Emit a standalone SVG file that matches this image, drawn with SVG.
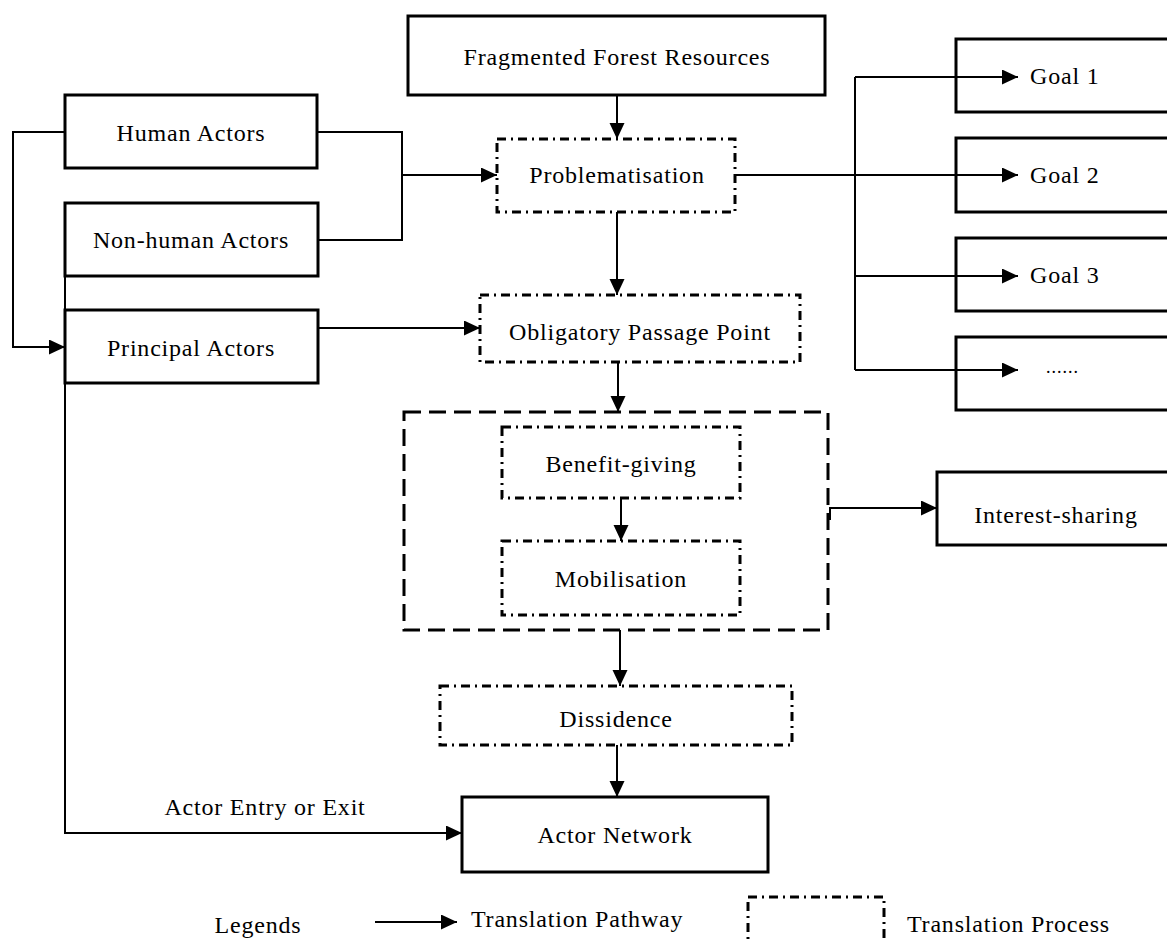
<svg xmlns="http://www.w3.org/2000/svg" width="1167" height="940" viewBox="0 0 1167 940">
<style>
text{font-family:"Liberation Serif","Times New Roman",serif;font-size:24px;fill:#000;letter-spacing:0.8px}
.m{text-anchor:middle}
.box{fill:#fff;stroke:#000;stroke-width:3}
.goal{fill:none;stroke:#000;stroke-width:3}
.proc{fill:#fff;stroke:#000;stroke-width:3;stroke-dasharray:9 5 2 5}
.big{fill:none;stroke:#000;stroke-width:3;stroke-dasharray:17 8}
.c{fill:none;stroke:#000;stroke-width:2}
.a{marker-end:url(#ah)}
</style>
<defs>
<marker id="ah" markerUnits="userSpaceOnUse" markerWidth="16" markerHeight="16" refX="16" refY="7.5" orient="auto">
<path d="M0,0 L16,7.5 L0,15 z" fill="#000"/>
</marker>
</defs>
<rect width="1167" height="940" fill="#fff"/>
<g id="connectors">
<path class="c a" d="M617,95 V139"/>
<path class="c" d="M317,132 H402 V240 H318"/>
<path class="c a" d="M402,175 H497"/>
<path class="c a" d="M65,132 H13 V347 H65"/>
<path class="c" d="M65,276 V310"/>
<path class="c a" d="M65,383 V833 H462"/>
<path class="c a" d="M318,328 H480"/>
<path class="c a" d="M617,212 V295"/>
<path class="c a" d="M735,175 H1018"/>
<path class="c" d="M855,77 V370"/>
<path class="c a" d="M855,77 H1018"/>
<path class="c a" d="M855,276 H1018"/>
<path class="c a" d="M855,370 H1018"/>
<path class="c a" d="M618,362 V412"/>
<path class="c a" d="M621,498 V541"/>
<path class="c a" d="M830,520 V508 H937"/>
<path class="c a" d="M620,630 V686"/>
<path class="c a" d="M617,745 V797"/>
</g>
<g id="fragmented-forest-resources"><rect class="box" x="408" y="16" width="417" height="79"/><text class="m" x="617" y="65">Fragmented Forest Resources</text></g>
<g id="human-actors"><rect class="box" x="65" y="95" width="252" height="73"/><text class="m" x="191" y="141">Human Actors</text></g>
<g id="non-human-actors"><rect class="box" x="65" y="203" width="253" height="73"/><text class="m" x="191" y="248">Non-human Actors</text></g>
<g id="principal-actors"><rect class="box" x="65" y="310" width="253" height="73"/><text class="m" x="191" y="356">Principal Actors</text></g>
<g id="problematisation"><rect class="proc" x="497" y="139" width="238" height="73"/><text class="m" x="617" y="183">Problematisation</text></g>
<g id="goal-1"><rect class="goal" x="956" y="39" width="215" height="73"/><text x="1030" y="84">Goal 1</text></g>
<g id="goal-2"><rect class="goal" x="956" y="138" width="215" height="74"/><text x="1030" y="183">Goal 2</text></g>
<g id="goal-3"><rect class="goal" x="956" y="238" width="215" height="73"/><text x="1030" y="283">Goal 3</text></g>
<g id="goal-more"><rect class="goal" x="956" y="337" width="215" height="73"/><text x="1046" y="373" style="font-size:18px;letter-spacing:1px">......</text></g>
<g id="obligatory-passage-point"><rect class="proc" x="480" y="295" width="320" height="67"/><text class="m" x="640" y="340">Obligatory Passage Point</text></g>
<g id="interessement"><rect class="big" x="404" y="412" width="424" height="218"/></g>
<g id="benefit-giving"><rect class="proc" x="502" y="427" width="238" height="71"/><text class="m" x="621" y="472">Benefit-giving</text></g>
<g id="mobilisation"><rect class="proc" x="502" y="541" width="238" height="74"/><text class="m" x="621" y="587">Mobilisation</text></g>
<g id="interest-sharing"><rect class="box" x="937" y="472" width="234" height="73"/><text class="m" x="1056" y="523">Interest-sharing</text></g>
<g id="dissidence"><rect class="proc" x="440" y="686" width="352" height="59"/><text class="m" x="616" y="727">Dissidence</text></g>
<g id="actor-network"><rect class="box" x="462" y="797" width="306" height="75"/><text class="m" x="615" y="843">Actor Network</text></g>
<g id="entry-label"><text class="m" x="265" y="815">Actor Entry or Exit</text></g>
<g id="legend">
<text class="m" x="258" y="933">Legends</text>
<path class="c a" d="M375,922 H457"/>
<text x="471" y="927">Translation Pathway</text>
<rect class="proc" x="748" y="897" width="136" height="60"/>
<text x="907" y="932">Translation Process</text>
</g>
</svg>
